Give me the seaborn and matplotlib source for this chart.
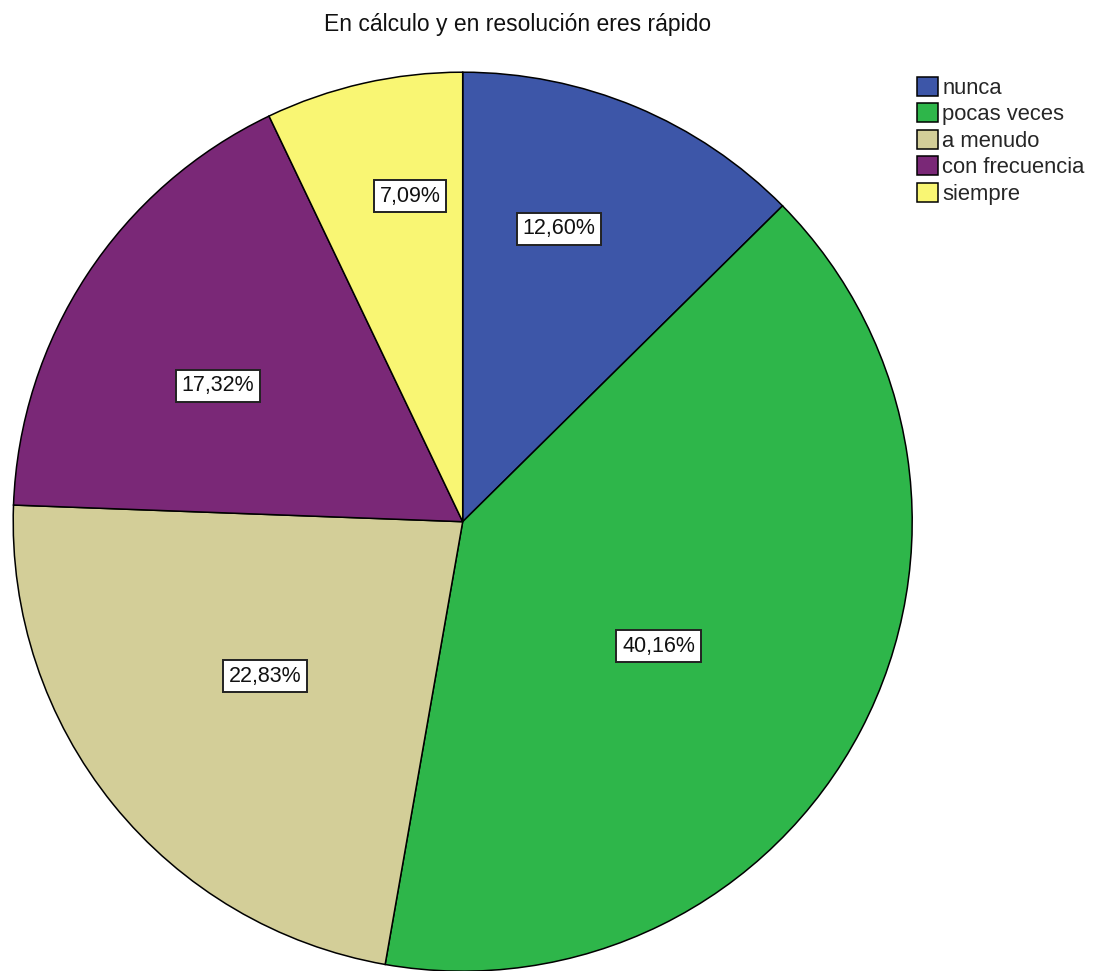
import numpy as np
import matplotlib
matplotlib.use("Agg")
import matplotlib.pyplot as plt
from matplotlib.patches import Patch
import seaborn as sns

# Survey answers and their shares (%)
categories = ["nunca", "pocas veces", "a menudo", "con frecuencia", "siempre"]
percentages = [12.60, 40.16, 22.83, 17.32, 7.09]
title = "En cálculo y en resolución eres rápido"

sns.set_theme(style="white")
plt.rcParams["font.family"] = ["Liberation Sans", "DejaVu Sans"]

palette = sns.color_palette(["#3D56A8", "#2EB64A", "#D3CE98", "#7A2877", "#F9F673"])

# Label placement inside each wedge: fraction along the arc (from theta1),
# and fraction of the radius
label_arc_frac = [0.60, 0.467, 0.488, 0.569, 0.36]
label_radius = [0.686, 0.516, 0.558, 0.623, 0.734]

W, H = 1093, 971
fig = plt.figure(figsize=(W / 100, H / 100), dpi=100)
fig.patch.set_facecolor("white")

cx, cy, R = 462.7, 521.7, 449.5
ax = fig.add_axes([(cx - R) / W, (H - cy - R) / H, 2 * R / W, 2 * R / H])

wedges, _ = ax.pie(
    percentages,
    colors=palette,
    startangle=90,
    counterclock=False,
    radius=1.0,
    wedgeprops=dict(edgecolor="black", linewidth=1.1),
)
ax.set_xlim(-1, 1)
ax.set_ylim(-1, 1)
ax.set_aspect("equal")
ax.axis("off")

for w, pct, f, r in zip(wedges, percentages, label_arc_frac, label_radius):
    ang = np.deg2rad(w.theta1 + f * (w.theta2 - w.theta1))
    ax.text(
        r * np.cos(ang), r * np.sin(ang),
        f"{pct:.2f}%".replace(".", ","),
        ha="center", va="center", fontsize=15.5, color="#111111",
        bbox=dict(boxstyle="square,pad=0.26", facecolor="white",
                  edgecolor="#222222", linewidth=1.4),
    )

fig.text(518 / W, 1 - 24 / H, title, ha="center", va="center",
         fontsize=16.5, color="#111111")

handles = [Patch(facecolor=c, edgecolor="black", linewidth=1.1) for c in palette]
fig.legend(
    handles, categories,
    loc="upper left", bbox_to_anchor=(917 / W, 1 - 77 / H),
    frameon=False, fontsize=15.8, handlelength=0.95, handleheight=0.95,
    handletextpad=0.2, labelspacing=0.20, borderpad=0, borderaxespad=0,
)

fig.savefig("out.png", dpi=100, facecolor="white")
